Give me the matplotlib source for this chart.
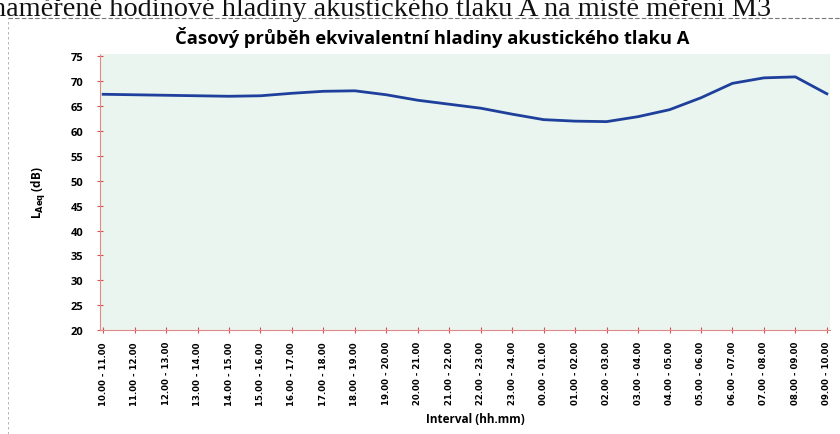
import matplotlib
matplotlib.use("Agg")
import matplotlib.pyplot as plt
from matplotlib.lines import Line2D

# hourly intervals and equivalent sound level (dB)
intervals = ["10.00 - 11.00", "11.00 - 12.00", "12.00 - 13.00", "13.00 - 14.00",
             "14.00 - 15.00", "15.00 - 16.00", "16.00 - 17.00", "17.00 - 18.00",
             "18.00 - 19.00", "19.00 - 20.00", "20.00 - 21.00", "21.00 - 22.00",
             "22.00 - 23.00", "23.00 - 24.00", "00.00 - 01.00", "01.00 - 02.00",
             "02.00 - 03.00", "03.00 - 04.00", "04.00 - 05.00", "05.00 - 06.00",
             "06.00 - 07.00", "07.00 - 08.00", "08.00 - 09.00", "09.00 - 10.00"]
laeq = [67.4, 67.3, 67.2, 67.1, 67.0, 67.1, 67.6, 68.0, 68.1, 67.3, 66.2, 65.4,
        64.6, 63.4, 62.3, 62.0, 61.9, 62.9, 64.3, 66.7, 69.6, 70.7, 70.9, 67.5]
yticks = list(range(20, 80, 5))

fig = plt.figure(figsize=(8.4, 4.35), dpi=100)
W, H = 840, 435

# scanned document heading, cut at the top
fig.text(-8 / W, 1 - 16 / H, "naměřené hodinové hladiny akustického tlaku A na místě měření M3",
         family="Liberation Serif", fontsize=20.3, ha="left", va="baseline", color="#111111")

# dashed frame of the pasted chart
fig.add_artist(Line2D([8 / W, 1], [1 - 19 / H, 1 - 19 / H], transform=fig.transFigure,
                      color="#777777", lw=0.8, ls=(0, (4, 2))))
fig.add_artist(Line2D([8 / W, 8 / W], [0, 1 - 19 / H], transform=fig.transFigure,
                      color="#aaaaaa", lw=0.6, ls=(0, (3, 3))))

ax = fig.add_axes([100 / W, 1 - 331 / H, 730 / W, 276 / H])
ax.set_facecolor("#e9f5ee")
x = list(range(len(intervals)))
ax.plot(x, laeq, color="#1f3f9c", lw=2)

ax.set_xlim(-0.1, 23.1)
ax.set_ylim(20, 75.5)
ax.set_yticks(yticks)
ax.set_xticks(x)
ax.set_xticklabels(intervals, rotation=90, family="DejaVu Sans", stretch="condensed",
                   fontweight="bold", fontsize=6.8)
for lab in ax.get_yticklabels():
    lab.set_fontweight("bold")
    lab.set_family("Open Sans")
    lab.set_fontsize(8)

for s in ["top", "right"]:
    ax.spines[s].set_visible(False)
for s in ["left", "bottom"]:
    ax.spines[s].set_color("#e08a8a")
    ax.spines[s].set_linewidth(0.8)
    ax.spines[s].set_linestyle((0, (2, 1)))
ax.tick_params(axis="both", direction="inout", length=4, color="#d85050")
ax.tick_params(axis="x", pad=6)
ax.tick_params(axis="y", pad=10)

fig.text(432 / W, 1 - 38 / H, "Časový průběh ekvivalentní hladiny akustického tlaku A",
         family="Open Sans", fontweight="bold", fontsize=13.2, ha="center", va="center")
fig.text(475 / W, 1 - 420 / H, "Interval (hh.mm)", family="Open Sans", fontweight="bold",
         fontsize=8.5, ha="center", va="center")
ax.set_ylabel(r"L$_{\mathbf{Aeq}}$ (dB)", family="Open Sans", fontweight="bold",
              fontsize=8.5, labelpad=16)

fig.savefig("out.png", dpi=100)
